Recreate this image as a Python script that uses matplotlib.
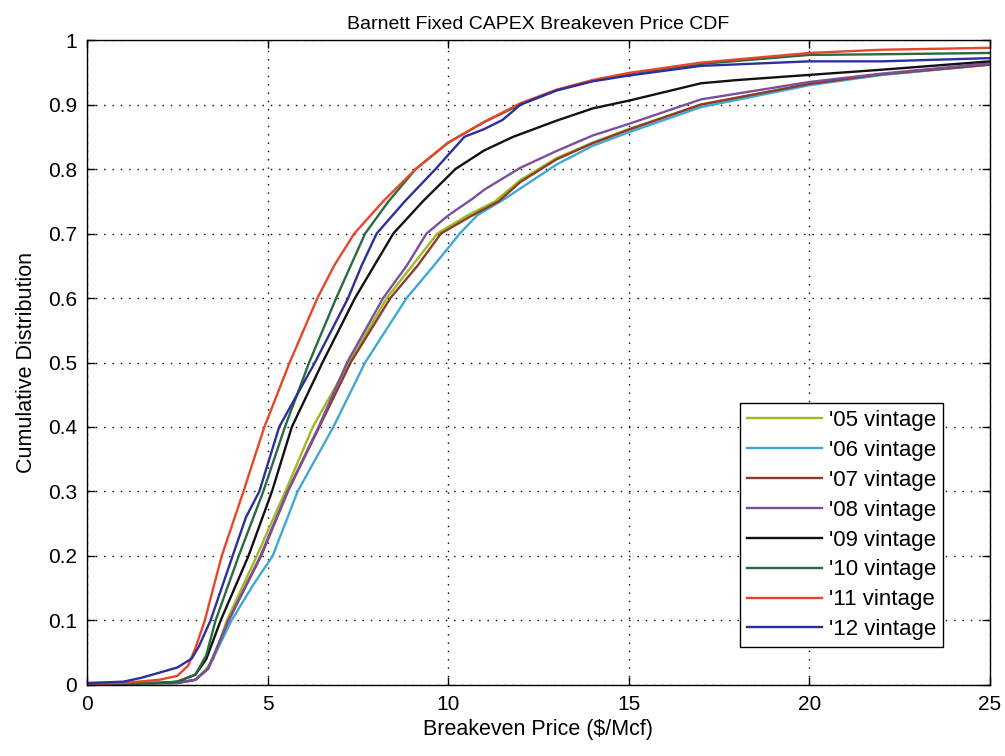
import matplotlib
matplotlib.use("Agg")
import matplotlib.pyplot as plt
from matplotlib.ticker import FuncFormatter

plt.rcParams["font.family"] = ["Liberation Sans", "DejaVu Sans"]

# breakeven price ($/Mcf) and cumulative share, one pair of lists per vintage
x_05 = [0, 2, 2.5, 3.0, 3.3, 3.5, 3.87, 4.70, 5.49, 6.25, 7.26, 8.3, 9.0, 9.7, 10.5, 11.3, 12.0, 13.0, 14.0, 15.0, 17.0, 20.0, 22.0, 25.0]
y_05 = [0.002, 0.003, 0.003, 0.008, 0.025, 0.041, 0.1, 0.2, 0.3, 0.4, 0.5, 0.6, 0.65, 0.7, 0.727, 0.75, 0.783, 0.817, 0.841, 0.862, 0.9, 0.932, 0.946, 0.962]

x_06 = [0, 2, 2.5, 3.0, 3.35, 4.0, 4.6, 4.9, 5.14, 5.83, 6.82, 7.7, 8.85, 9.6, 10.32, 10.8, 11.6, 12.0, 13.0, 14.0, 15.0, 17.0, 20.0, 22.0, 25.0]
y_06 = [0.002, 0.003, 0.003, 0.008, 0.025, 0.1, 0.155, 0.18, 0.2, 0.3, 0.4, 0.5, 0.6, 0.65, 0.7, 0.728, 0.755, 0.77, 0.807, 0.836, 0.857, 0.896, 0.93, 0.946, 0.962]

x_07 = [0, 2, 2.5, 3.0, 3.35, 3.92, 4.82, 5.56, 6.43, 7.3, 8.4, 9.15, 9.8, 10.6, 11.4, 12.0, 13.0, 14.0, 15.0, 17.0, 20.0, 22.0, 25.0]
y_07 = [0.002, 0.003, 0.003, 0.008, 0.025, 0.1, 0.2, 0.3, 0.4, 0.5, 0.6, 0.65, 0.7, 0.726, 0.75, 0.78, 0.815, 0.84, 0.861, 0.9, 0.932, 0.947, 0.962]

x_08 = [0, 2, 2.5, 3.0, 3.35, 3.92, 4.8, 5.55, 6.41, 7.2, 8.2, 8.85, 9.4, 10.0, 10.7, 11.0, 12.0, 13.0, 14.0, 15.0, 17.0, 20.0, 22.0, 25.0]
y_08 = [0.002, 0.003, 0.003, 0.008, 0.025, 0.1, 0.2, 0.3, 0.4, 0.5, 0.6, 0.65, 0.7, 0.728, 0.755, 0.768, 0.802, 0.828, 0.852, 0.87, 0.908, 0.935, 0.948, 0.964]

x_09 = [0, 2, 2.5, 3.0, 3.3, 3.7, 4.47, 5.12, 5.67, 6.52, 7.42, 7.95, 8.48, 9.3, 10.2, 11.0, 11.8, 13.0, 14.0, 15.0, 17.0, 18.0, 20.0, 22.0, 25.0]
y_09 = [0.002, 0.003, 0.005, 0.016, 0.04, 0.1, 0.2, 0.3, 0.4, 0.5, 0.6, 0.65, 0.7, 0.75, 0.8, 0.829, 0.85, 0.875, 0.894, 0.906, 0.933, 0.938, 0.946, 0.954, 0.967]

x_10 = [0, 2, 2.5, 3.0, 3.3, 3.56, 4.2, 4.88, 5.48, 6.15, 6.9, 7.3, 7.7, 8.35, 9.1, 10.0, 11.0, 12.0, 13.0, 14.0, 15.0, 17.0, 20.0, 22.0, 25.0]
y_10 = [0.002, 0.003, 0.005, 0.016, 0.046, 0.1, 0.2, 0.3, 0.4, 0.5, 0.6, 0.65, 0.7, 0.75, 0.8, 0.841, 0.873, 0.9, 0.922, 0.937, 0.948, 0.963, 0.977, 0.978, 0.98]

x_11 = [0, 1, 2, 2.5, 2.8, 3.0, 3.26, 3.73, 4.33, 4.91, 5.61, 6.38, 6.84, 7.4, 8.2, 9.1, 10.0, 11.0, 12.0, 13.0, 14.0, 15.0, 17.0, 20.0, 22.0, 25.0]
y_11 = [0.002, 0.003, 0.008, 0.014, 0.03, 0.057, 0.1, 0.2, 0.3, 0.4, 0.5, 0.6, 0.65, 0.7, 0.75, 0.8, 0.841, 0.873, 0.902, 0.923, 0.938, 0.949, 0.965, 0.98, 0.985, 0.988]

x_12 = [0, 1, 1.5, 2, 2.5, 2.9, 3.1, 3.42, 4.03, 4.4, 4.77, 5.32, 6.31, 7.23, 7.6, 8.02, 8.8, 9.65, 10.45, 11.0, 11.5, 11.8, 12.0, 13.0, 14.0, 15.0, 17.0, 20.0, 22.0, 25.0]
y_12 = [0.003, 0.005, 0.011, 0.019, 0.027, 0.041, 0.06, 0.1, 0.2, 0.26, 0.3, 0.4, 0.5, 0.6, 0.65, 0.7, 0.75, 0.8, 0.85, 0.862, 0.876, 0.89, 0.9, 0.922, 0.936, 0.945, 0.96, 0.967, 0.967, 0.972]

labels = ["'05 vintage", "'06 vintage", "'07 vintage", "'08 vintage",
          "'09 vintage", "'10 vintage", "'11 vintage", "'12 vintage"]
colors = ["#9dbb1f", "#3fa9d6", "#8c3b2b", "#7b4f9d",
          "#111111", "#276b3f", "#e8452b", "#2b2f9a"]

series = [(x_05, y_05), (x_06, y_06), (x_07, y_07), (x_08, y_08),
          (x_09, y_09), (x_10, y_10), (x_11, y_11), (x_12, y_12)]

fig = plt.figure(figsize=(10.05, 7.56), dpi=100)
ax = fig.add_axes([0.0866, 0.094, 0.8984, 0.853])

for (xs, ys), label, color in zip(series, labels, colors):
    ax.plot(xs, ys, color=color, linewidth=1.7, label=label,
            solid_joinstyle="round")

ax.set_xlim(0, 25)
ax.set_ylim(0, 1)
ax.set_xticks(range(0, 26, 5))
ax.set_yticks([i / 10 for i in range(11)])
ax.yaxis.set_major_formatter(FuncFormatter(lambda v, _: f"{v:g}"))
ax.tick_params(direction="in", top=True, right=True, length=6,
               labelsize=15, width=1, pad=7)
ax.grid(True, color="black", linestyle=(0, (1, 5)), linewidth=1.0)
for spine in ax.spines.values():
    spine.set_linewidth(1.0)

ax.set_title("Barnett Fixed CAPEX Breakeven Price CDF", fontsize=14, pad=8)
ax.set_xlabel(r"Breakeven Price (\$/Mcf)", fontsize=15.5, labelpad=4)
ax.set_ylabel("Cumulative Distribution", fontsize=15.5, labelpad=8)

leg = ax.legend(loc="lower right", bbox_to_anchor=(0.948, 0.059), fontsize=16,
                handlelength=3.4, labelspacing=0.4, handletextpad=0.3,
                borderpad=0.3, borderaxespad=0, fancybox=False, framealpha=1,
                edgecolor="black")
leg.get_frame().set_linewidth(1.0)

fig.savefig("out.png", dpi=100)
